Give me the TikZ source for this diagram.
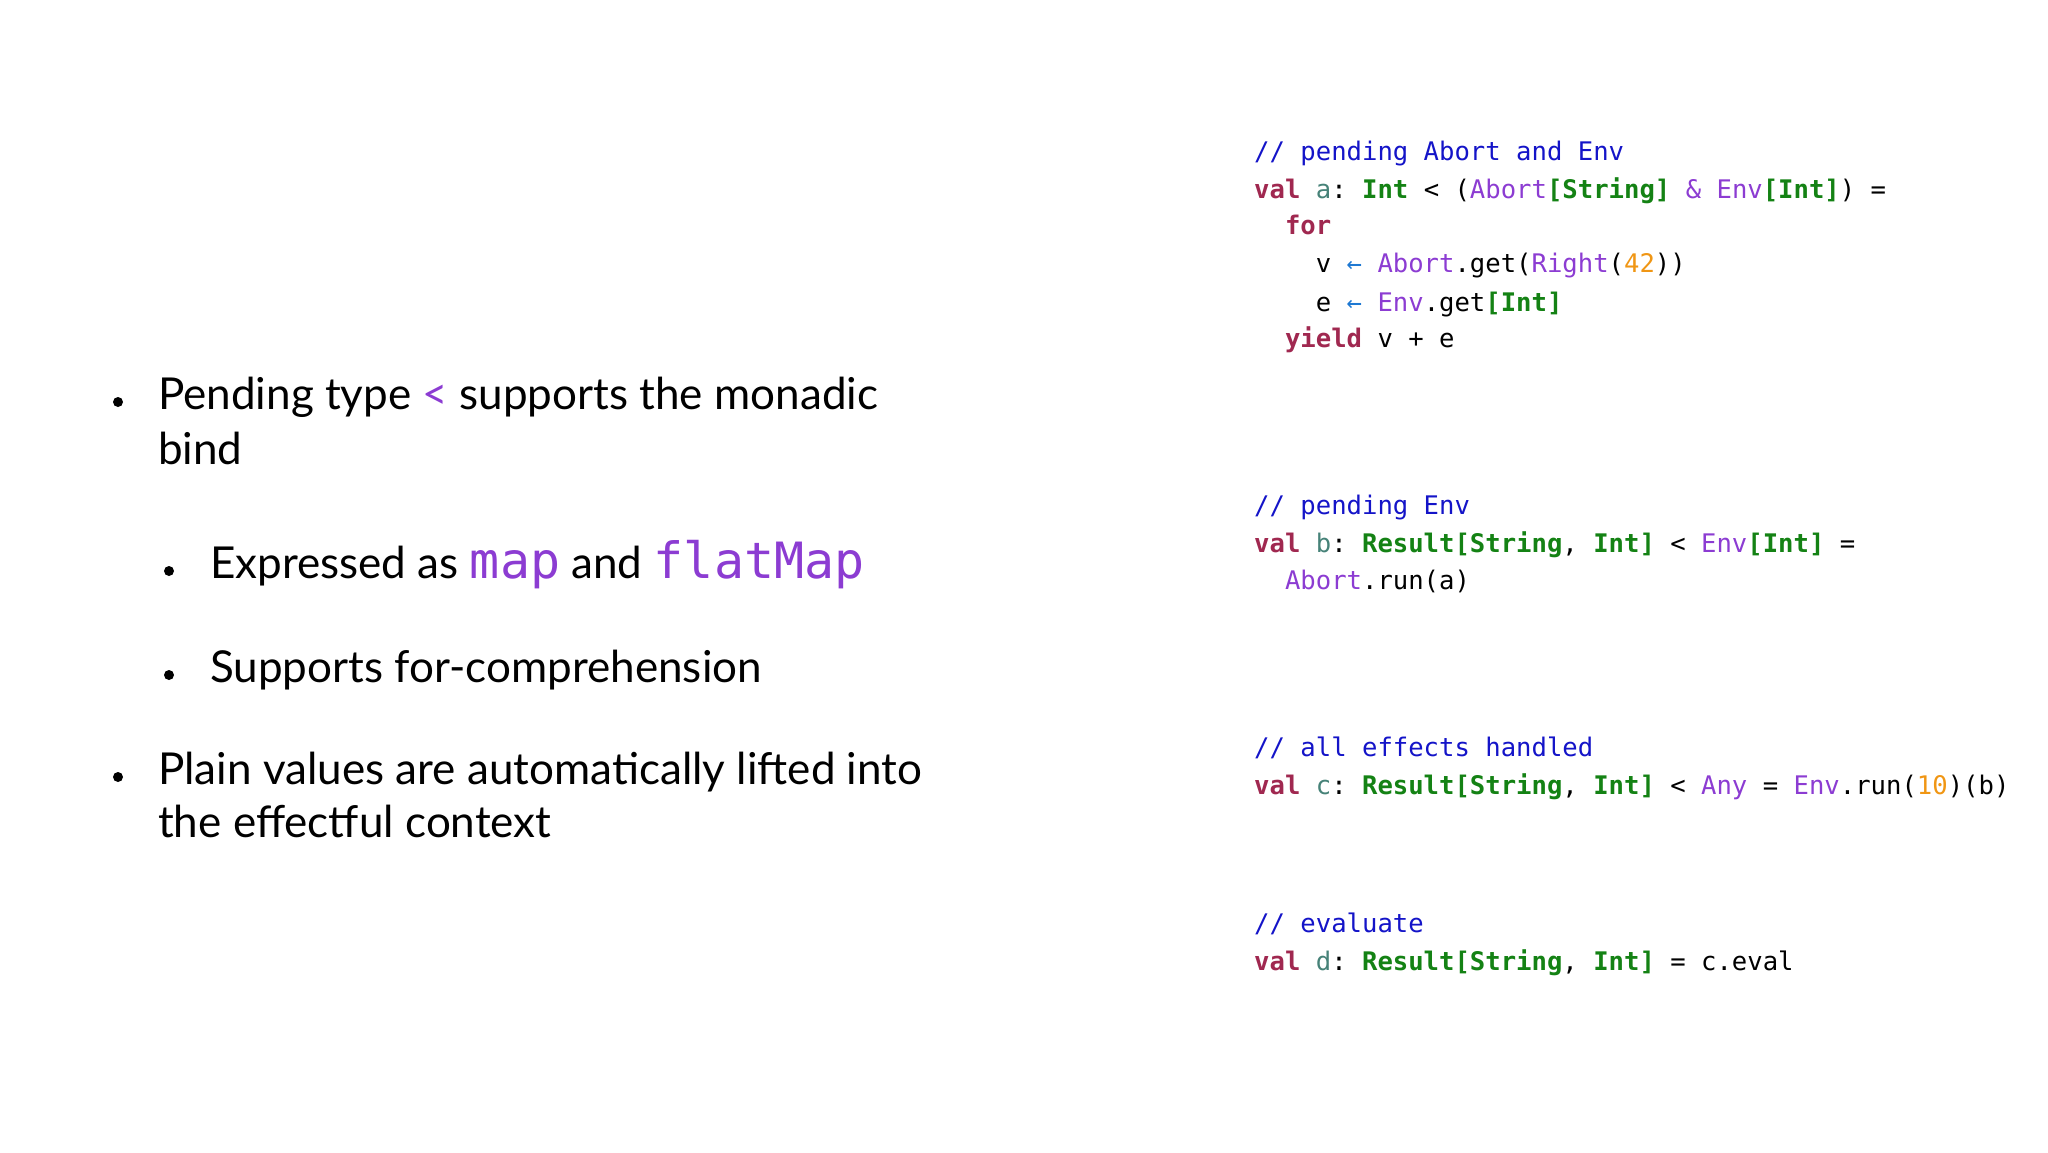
\documentclass[tikz,border=0pt]{standalone}
\usepackage{fontspec}
\setmainfont{Lato}
\setmonofont{DejaVu Sans Mono}
\definecolor{cm}{RGB}{20,20,200}
\definecolor{kw}{RGB}{160,40,80}
\definecolor{vr}{RGB}{70,130,120}
\definecolor{ty}{RGB}{20,130,20}
\definecolor{pu}{RGB}{140,60,210}
\definecolor{nu}{RGB}{240,150,20}
\definecolor{ar}{RGB}{30,120,210}
\newcommand{\Cm}[1]{\textcolor{cm}{#1}}
\newcommand{\Kw}[1]{\textcolor{kw}{\bfseries #1}}
\newcommand{\Vr}[1]{\textcolor{vr}{#1}}
\newcommand{\Ty}[1]{\textcolor{ty}{\bfseries #1}}
\newcommand{\Pu}[1]{\textcolor{pu}{#1}}
\newcommand{\Nu}[1]{\textcolor{nu}{#1}}
\newcommand{\Ar}{\textcolor{ar}{←}}
\tikzset{
  code/.style={anchor=west,inner sep=0pt,font=\ttfamily\fontsize{25.6}{30}\selectfont,text height=0.75em,text depth=0.25em},
  txt/.style={anchor=west,inner sep=0pt,font=\fontsize{44}{54}\selectfont,text height=0.72em,text depth=0.2em},
  bul/.style={circle,fill=black,inner sep=0pt,minimum size=10pt}
}
\begin{document}
\begin{tikzpicture}[x=1pt,y=-1pt]
\useasboundingbox (0,0) rectangle (2048,1152);
% left bullets
\node[bul] (b1) at (118,402) {};
\node[txt] (t1) at (158,407) {Pending type \textcolor{pu}{<} supports the monadic};
\node[txt] (t1b) at (158,462) {bind};
\node[bul] (b2) at (169,571) {};
\node[txt] (t2) at (210,576) {Expressed as {\ttfamily\fontsize{50}{54}\selectfont\textcolor{pu}{map}} and {\ttfamily\fontsize{50}{54}\selectfont\textcolor{pu}{flatMap}}};
\node[bul] (b3) at (169,675) {};
\node[txt] (t3) at (210,680) {Supports for-comprehension};
\node[bul] (b4) at (118,777) {};
\node[txt] (t4) at (158,782) {Plain values are automatically lifted into};
\node[txt] (t4b) at (158,835) {the effectful context};
% code
\node[code] (c1) at (1254,158) {\Cm{// pending Abort and Env}};
\node[code] (c2) at (1254,196) {\Kw{val} \Vr{a}: \Ty{Int} < (\Pu{Abort}\Ty{[String]} \Pu{\&} \Pu{Env}\Ty{[Int]}) =};
\node[code] (c3) at (1254,232) {\phantom{xx}\Kw{for}};
\node[code] (c4) at (1254,270) {\phantom{xxxx}v \Ar{} \Pu{Abort}.get(\Pu{Right}(\Nu{42}))};
\node[code] (c5) at (1254,309) {\phantom{xxxx}e \Ar{} \Pu{Env}.get\Ty{[Int]}};
\node[code] (c6) at (1254,345) {\phantom{xx}\Kw{yield} v + e};
\node[code] (d1) at (1254,512) {\Cm{// pending Env}};
\node[code] (d2) at (1254,550) {\Kw{val} \Vr{b}: \Ty{Result[String}, \Ty{Int]} < \Pu{Env}\Ty{[Int]} =};
\node[code] (d3) at (1254,587) {\phantom{xx}\Pu{Abort}.run(a)};
\node[code] (e1) at (1254,754) {\Cm{// all effects handled}};
\node[code] (e2) at (1254,792) {\Kw{val} \Vr{c}: \Ty{Result[String}, \Ty{Int]} < \Pu{Any} = \Pu{Env}.run(\Nu{10})(b)};
\node[code] (f1) at (1254,930) {\Cm{// evaluate}};
\node[code] (f2) at (1254,968) {\Kw{val} \Vr{d}: \Ty{Result[String}, \Ty{Int]} = c.eval};
\end{tikzpicture}
\end{document}
